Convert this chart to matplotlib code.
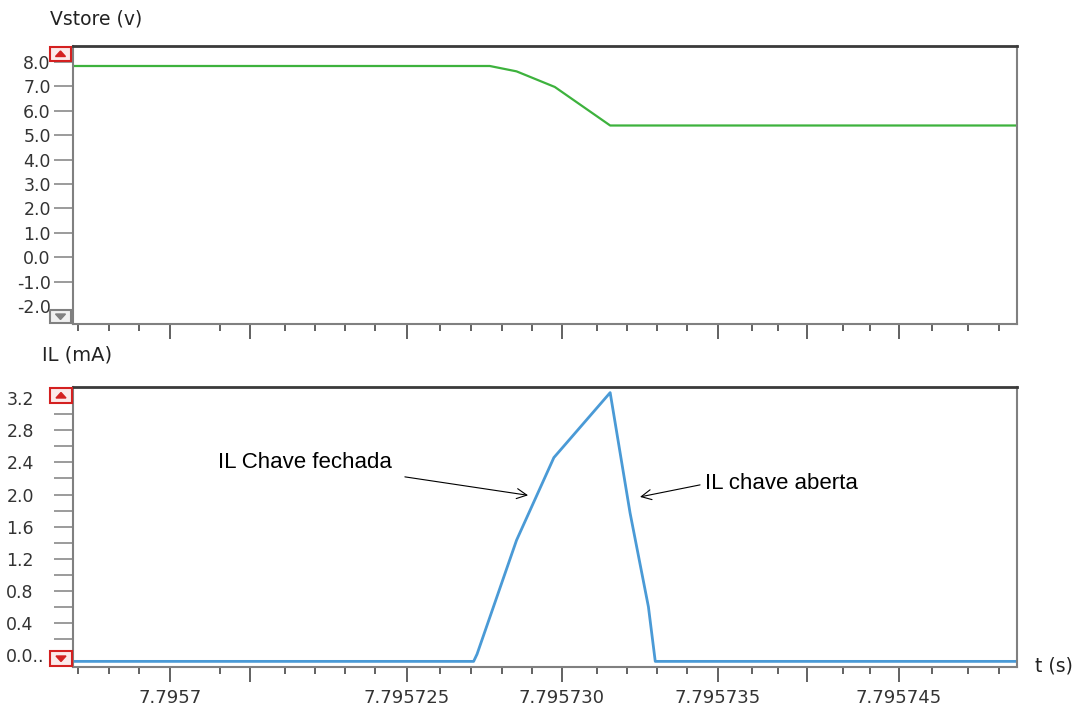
import matplotlib
matplotlib.use("Agg")
import matplotlib.pyplot as plt
from matplotlib.patches import Rectangle, Polygon

# time axis: microseconds relative to 7.795730 s
t_v = [-15.72, -2.32, -1.46, -0.23, 1.55, 14.63]
vstore = [7.84, 7.84, 7.62, 6.98, 5.40, 5.40]

t_il = [-15.72, -2.84, -2.73, -1.46, -0.26, 1.55, 2.19, 2.78, 3.00, 14.63]
il = [-0.08, -0.08, 0.01, 1.43, 2.46, 3.27, 1.77, 0.60, -0.08, -0.08]

x_major = [-12.60, -10.03, -4.98, 0.0, 5.02, 7.88, 10.84]
x_labels = ["7.7957", "", "7.795725", "7.795730", "7.795735", "", "7.795745"]
x_minor = [-15.56, -14.57, -13.60, -11.00, -8.91, -7.94, -6.98, -6.01,
           -3.92, -2.93, -1.93, -0.96, 1.13, 2.09, 3.05, 4.02,
           6.11, 6.95, 9.04, 9.90, 11.90, 13.05, 14.05]

v_ticks = [8, 7, 6, 5, 4, 3, 2, 1, 0, -1, -2]
v_labels = ["8.0", "7.0", "6.0", "5.0", "4.0", "3.0", "2.0", "1.0", "0.0", "-1.0", "-2.0"]
i_ticks = [0.0, 0.4, 0.8, 1.2, 1.6, 2.0, 2.4, 2.8, 3.2]
i_labels = ["0.0..", "0.4", "0.8", "1.2", "1.6", "2.0", "2.4", "2.8", "3.2"]
i_minor = [0.2, 0.6, 1.0, 1.4, 1.8, 2.2, 2.6, 3.0]

W, H = 1080, 708
fig = plt.figure(figsize=(W / 100, H / 100), dpi=100)


def fx(x):
    return x / W


def fy(y):
    return 1 - y / H


def axes_px(left, top, right, bottom):
    return fig.add_axes([fx(left), fy(bottom), (right - left) / W, (bottom - top) / H])


ax1 = axes_px(73, 46, 1017, 324)
ax2 = axes_px(73, 387, 1017, 667)

grey = "#808080"
for ax in (ax1, ax2):
    ax.set_xlim(-15.72, 14.63)
    for s in ("left", "bottom", "right"):
        ax.spines[s].set_color(grey)
        ax.spines[s].set_linewidth(1.5)
    ax.spines["top"].set_color("#3a3a3a")
    ax.spines["top"].set_linewidth(2)
    ax.set_xticks(x_major)
    ax.set_xticks(x_minor, minor=True)
    ax.tick_params(axis="x", which="major", length=11, width=1.3, color="#555555")
    ax.tick_params(axis="x", which="minor", length=5, width=1.3, color="#555555")
    ax.tick_params(axis="y", which="both", length=14, width=1.1, color=grey)

# top: Vstore
ax1.plot(t_v, vstore, color="#3db23d", lw=1.6)
ax1.set_ylim(-2.74, 8.66)
ax1.set_yticks(v_ticks)
ax1.set_yticklabels(v_labels, fontsize=12.5, color="#333333")
ax1.tick_params(axis="y", pad=2)
ax1.yaxis.get_major_ticks()[-1].tick1line.set_visible(False)
ax1.set_xticklabels([])

# bottom: IL
ax2.plot(t_il, il, color="#4a9ad6", lw=2)
ax2.set_ylim(-0.15, 3.34)
ax2.set_yticks(i_ticks)
ax2.set_yticklabels(i_labels, fontsize=12.5, color="#333333", ha="left")
ax2.set_yticks(i_minor, minor=True)
ax2.tick_params(axis="y", pad=34)
ax2.set_xticklabels(x_labels, fontsize=13, color="#333333")
ax2.tick_params(axis="x", which="major", pad=5)

ax2.text(-11.06, 2.40, "IL Chave fechada", fontsize=16, family="Liberation Sans",
         ha="left", va="center")
ax2.annotate("", xy=(-1.09, 1.99), xytext=(-5.05, 2.22),
             arrowprops=dict(arrowstyle="->", color="black", lw=0.8,
                             mutation_scale=18, shrinkA=0, shrinkB=0))
ax2.text(4.60, 2.14, "IL chave aberta", fontsize=16, family="Liberation Sans",
         ha="left", va="center")
ax2.annotate("", xy=(2.51, 1.97), xytext=(4.44, 2.12),
             arrowprops=dict(arrowstyle="->", color="black", lw=0.8,
                             mutation_scale=18, shrinkA=0, shrinkB=0))

fig.text(fx(50), fy(19), "Vstore (v)", fontsize=13.5, color="#222222", va="center")
fig.text(fx(42), fy(355), "IL (mA)", fontsize=14, color="#222222", va="center")
fig.text(fx(1035), fy(666), "t (s)", fontsize=13.5, color="#222222", va="center")


def button(x0, y0, x1, y1, up, col):
    fig.add_artist(Rectangle((fx(x0), fy(y1)), (x1 - x0) / W, (y1 - y0) / H,
                             transform=fig.transFigure, facecolor="#fbeaea" if col != grey else "#f0f0f0",
                             edgecolor=col, lw=1.5))
    cx = (x0 + x1) / 2
    cy = (y0 + y1) / 2
    if up:
        pts = [(cx - 5, cy + 2.5), (cx + 5, cy + 2.5), (cx, cy - 3)]
    else:
        pts = [(cx - 5, cy - 2.5), (cx + 5, cy - 2.5), (cx, cy + 3)]
    fig.add_artist(Polygon([(fx(a), fy(b)) for a, b in pts], closed=True,
                           transform=fig.transFigure, facecolor=col, edgecolor=col))


button(50, 47, 71, 61, True, "#d42020")
button(50, 310, 71, 323, False, grey)
button(50, 388, 72, 403, True, "#d42020")
button(50, 651, 72, 666, False, "#d42020")

fig.savefig("out.png", dpi=100)
